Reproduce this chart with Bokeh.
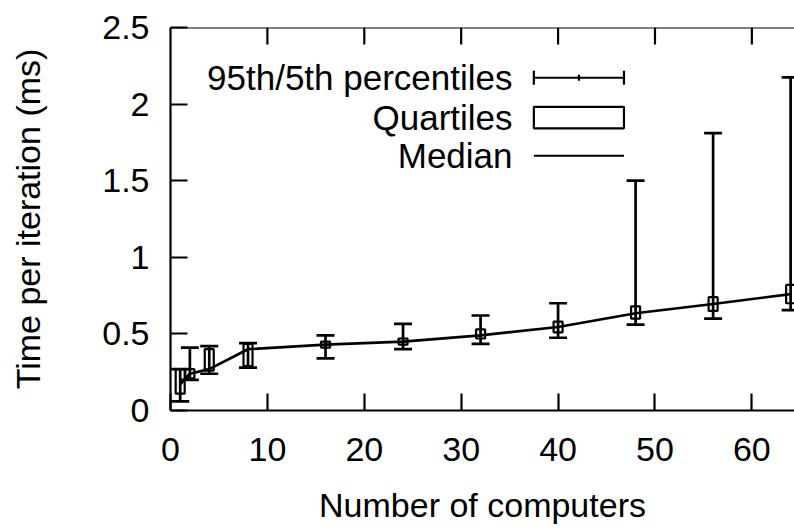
import math
from bokeh.plotting import figure
from bokeh.models import (ColumnDataSource, LinearAxis, FixedTicker, Whisker, TeeHead,
                          CustomJSTickFormatter, Range1d, Label, Span)
from bokeh.embed import file_html
from bokeh.resources import INLINE

# ---- data ----
computers = [1, 2, 4, 8, 16, 24, 32, 40, 48, 56, 64]
p5 = [0.06, 0.20, 0.24, 0.28, 0.34, 0.40, 0.435, 0.475, 0.56, 0.60, 0.655]
q1 = [0.11, 0.21, 0.26, 0.29, 0.41, 0.43, 0.47, 0.51, 0.60, 0.65, 0.70]
median = [0.17, 0.24, 0.27, 0.40, 0.43, 0.45, 0.49, 0.545, 0.635, 0.695, 0.76]
q3 = [0.27, 0.27, 0.40, 0.435, 0.45, 0.47, 0.53, 0.58, 0.68, 0.74, 0.82]
p95 = [0.27, 0.41, 0.42, 0.44, 0.49, 0.565, 0.62, 0.70, 1.50, 1.81, 2.175]

x_ticks = [0, 10, 20, 30, 40, 50, 60]
y_ticks = [0, 0.5, 1, 1.5, 2, 2.5]
legend_labels = ["95th/5th percentiles", "Quartiles", "Median"]

FONT = "Liberation Sans"
FS = "34px"
FS_KEY = "35px"
LW = 2.7
Y_MAX = 2.5

src = ColumnDataSource(dict(
    x=computers, p5=p5, p95=p95, med=median,
    qmid=[(a + b) / 2 for a, b in zip(q1, q3)],
    qh=[b - a for a, b in zip(q1, q3)],
))

p = figure(width=794, height=530, output_backend="svg", toolbar_location=None,
           x_range=Range1d(0, 64.4), y_range=Range1d(0, Y_MAX),
           min_border_left=170, min_border_right=0, min_border_top=27,
           min_border_bottom=120, x_axis_type=None, y_axis_type=None)
p.outline_line_color = None
p.xgrid.visible = False
p.ygrid.visible = False
p.background_fill_color = "white"
p.border_fill_color = "white"

def style_axis(ax):
    ax.axis_line_width = 2.2
    ax.axis_line_color = "black"
    ax.major_tick_in = 17
    ax.major_tick_out = 0
    ax.major_tick_line_width = 2.2
    ax.minor_tick_line_color = None
    ax.major_label_text_font = FONT
    ax.major_label_text_font_size = FS
    ax.major_label_text_color = "black"
    ax.axis_label_text_font = FONT
    ax.axis_label_text_font_size = FS
    ax.axis_label_text_font_style = "normal"
    ax.axis_label_text_color = "black"
    ax.formatter = CustomJSTickFormatter(code="return tick.toString();")

xb = LinearAxis(ticker=FixedTicker(ticks=x_ticks), axis_label="Number of computers")
style_axis(xb)
xb.major_label_standoff = 27
xb.axis_label_standoff = 22
p.add_layout(xb, "below")

yl = LinearAxis(ticker=FixedTicker(ticks=y_ticks), axis_label="Time per iteration (ms)")
style_axis(yl)
yl.major_label_standoff = 21
yl.axis_label_standoff = 52
p.add_layout(yl, "left")

# top border with mirrored inward ticks
p.add_layout(Span(location=Y_MAX, dimension="width", line_color="black", line_width=2.2))
p.ray(x=x_ticks[1:], y=[Y_MAX] * (len(x_ticks) - 1), length=17, length_units="screen",
      angle=-math.pi / 2, line_color="black", line_width=2.2)

# median line
p.line("x", "med", source=src, line_color="black", line_width=LW)
# quartile boxes
p.rect(x="x", y="qmid", width=9, height="qh", width_units="screen", source=src,
       fill_color=None, line_color="black", line_width=2.2)
# percentile whiskers
w = Whisker(base="x", lower="p5", upper="p95", source=src, line_width=LW, line_color="black",
            upper_head=TeeHead(size=18, line_width=LW, line_color="black"),
            lower_head=TeeHead(size=18, line_width=LW, line_color="black"))
p.add_layout(w)

# ---- key (gnuplot style: text left, sample right) ----
key_text_x = 35.3
key_x0, key_x1 = 37.5, 46.8
key_rows = [2.172, 1.912, 1.663]
for lab, ry in zip(legend_labels, key_rows):
    p.add_layout(Label(x=key_text_x, y=ry, text=lab, text_align="right", text_baseline="middle",
                       text_font=FONT, text_font_size=FS_KEY, text_color="black"))
# percentile sample
r0 = key_rows[0]
xm = (key_x0 + key_x1) / 2
p.segment(x0=[key_x0, key_x0, key_x1, xm],
          y0=[r0, r0 - 0.045, r0 - 0.045, r0 - 0.02],
          x1=[key_x1, key_x0, key_x1, xm],
          y1=[r0, r0 + 0.045, r0 + 0.045, r0 + 0.02],
          line_color="black", line_width=2.2)
# quartile sample
p.quad(left=[key_x0], right=[key_x1], bottom=[key_rows[1] - 0.07], top=[key_rows[1] + 0.07],
       fill_color=None, line_color="black", line_width=2.2)
# median sample
p.segment(x0=[key_x0], y0=[key_rows[2]], x1=[key_x1], y1=[key_rows[2]],
          line_color="black", line_width=2.2)

open("out.html", "w").write(file_html(p, INLINE))
